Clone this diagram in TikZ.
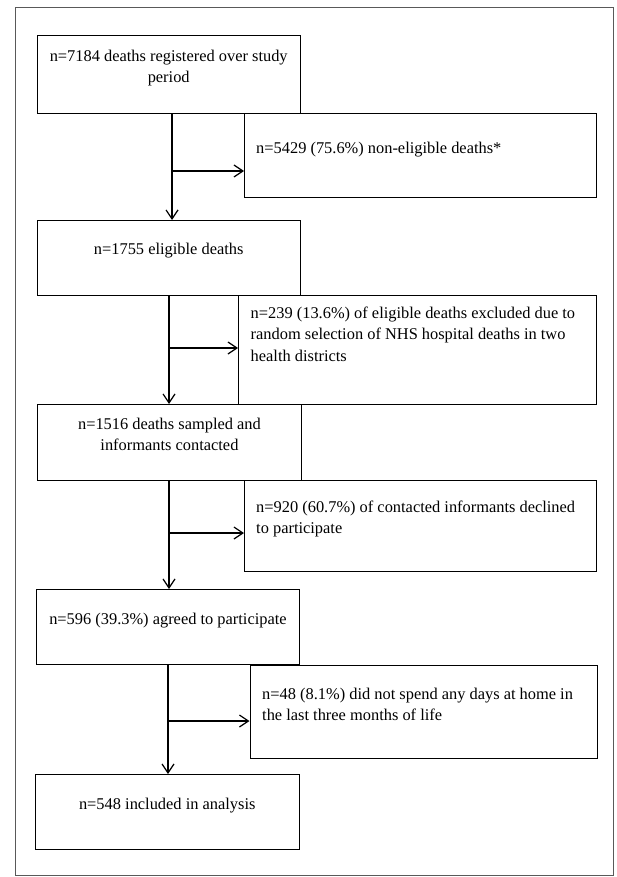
\documentclass[tikz,border=0pt]{standalone}
\usepackage{fontspec}
\setmainfont{Liberation Serif}
\usetikzlibrary{arrows.meta,positioning,calc}

\begin{document}
\begin{tikzpicture}[
  x=1pt, y=-1pt,
  every node/.style={font=\fontsize{16.4}{21.5}\selectfont},
  stage/.style={draw, line width=0.9pt, inner sep=0pt, anchor=north west},
  txt/.style={inner sep=0pt, align=center},
  side/.style={inner sep=0pt, align=left, anchor=north west},
  arr/.style={-{Straight Barb[length=9pt,width=12pt]}, line width=1.2pt},
]
\useasboundingbox (0,0) rectangle (616,877);

%% Outer frame
\draw[black!65, line width=0.8pt] (15,7) rectangle (613,875);

%% Main column
\node[stage, minimum width=263.5pt, minimum height=78pt] (reg) at (36.5,35) {};
\node[stage, minimum width=263.5pt, minimum height=75pt] (elig) at (36.5,220) {};
\node[stage, minimum width=264pt, minimum height=76pt] (sampled) at (37,404) {};
\node[stage, minimum width=263pt, minimum height=75pt] (agreed) at (36,589) {};
\node[stage, minimum width=263.6pt, minimum height=75pt] (incl) at (35,774) {};

\node[txt, anchor=north] (reg-t) at ([yshift=-14.5pt]reg.north)
  {n=7184 deaths registered over study\\period};
\node[txt, anchor=north] (elig-t) at ([yshift=-22.5pt]elig.north)
  {n=1755 eligible deaths};
\node[txt, anchor=north] (sampled-t) at ([yshift=-13.5pt]sampled.north)
  {n=1516 deaths sampled and\\informants contacted};
\node[txt, anchor=north] (agreed-t) at ([yshift=-23.5pt]agreed.north)
  {n=596 (39.3\%) agreed to participate};
\node[txt, anchor=north] (incl-t) at ([yshift=-23.5pt]incl.north)
  {n=548 included in analysis};

%% Exclusion boxes
\node[stage, minimum width=352pt, minimum height=84pt] (nonelig) at (244,113) {};
\node[stage, minimum width=358pt, minimum height=109pt] (random) at (238,295) {};
\node[stage, minimum width=352pt, minimum height=91pt] (declined) at (244,480) {};
\node[stage, minimum width=347.5pt, minimum height=93pt] (nohome) at (249.5,665) {};

\node[side] (nonelig-t) at ([xshift=12pt,yshift=-28.5pt]nonelig.north west)
  {n=5429 (75.6\%) non-eligible deaths*};
\node[side] (random-t) at ([xshift=12.5pt,yshift=-11.5pt]random.north west)
  {n=239 (13.6\%) of eligible deaths excluded due to\\
   random selection of NHS hospital deaths in two\\
   health districts};
\node[side] (declined-t) at ([xshift=12pt,yshift=-20.5pt]declined.north west)
  {n=920 (60.7\%) of contacted informants declined\\to participate};
\node[side] (nohome-t) at ([xshift=12.5pt,yshift=-22.5pt]nohome.north west)
  {n=48 (8.1\%) did not spend any days at home in\\the last three months of life};

%% Flow arrows
\coordinate (j1) at (172,171);
\coordinate (j2) at (169,348);
\coordinate (j3) at (169,533);
\coordinate (j4) at (168,721);

\draw[arr] (reg.south -| j1) -- (elig.north -| j1);
\draw[arr] (j1) -- (j1 -| nonelig.west);
\draw[arr] (elig.south -| j2) -- (sampled.north -| j2);
\draw[arr] (j2) -- (j2 -| random.west);
\draw[arr] (sampled.south -| j3) -- (agreed.north -| j3);
\draw[arr] (j3) -- (j3 -| declined.west);
\draw[arr] (agreed.south -| j4) -- (incl.north -| j4);
\draw[arr] (j4) -- (j4 -| nohome.west);

\end{tikzpicture}
\end{document}
